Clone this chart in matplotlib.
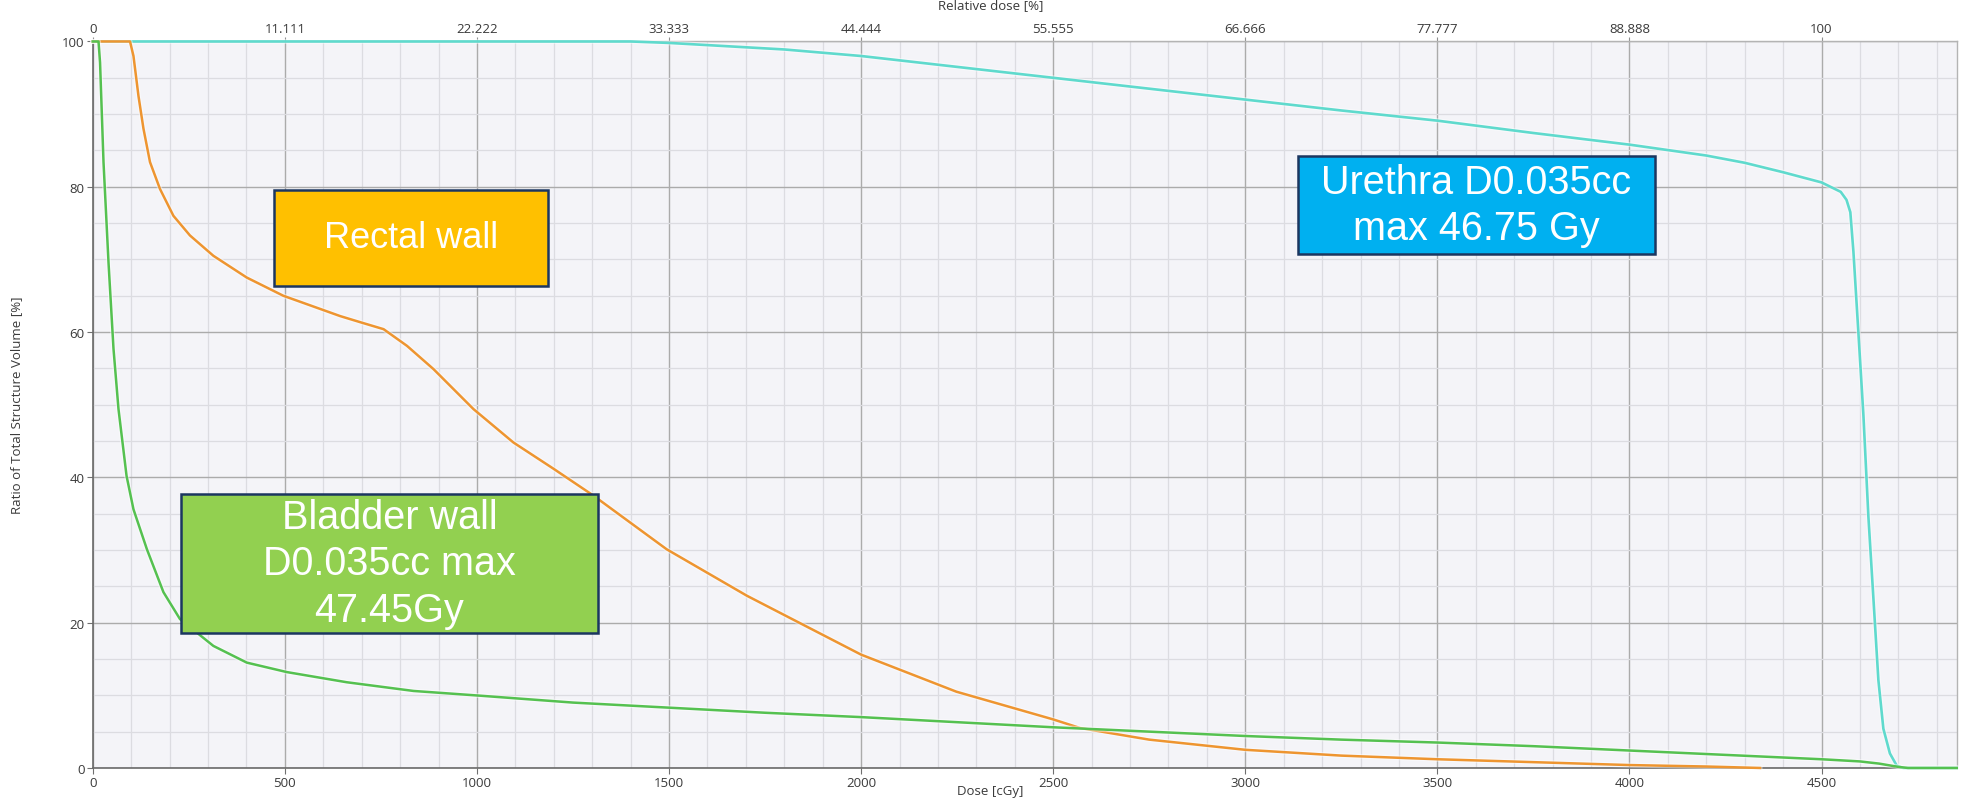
import numpy as np
import matplotlib
matplotlib.use("Agg")
import matplotlib.pyplot as plt
from matplotlib.patches import Rectangle
import matplotlib.patheffects as pe

# DVH curves (dose in cGy, volume in %)
urethra_dose = [0, 1400, 1500, 1600, 1800, 2000, 2250, 2500, 2750, 3000, 3250, 3500, 3750,
                4000, 4200, 4300, 4400, 4500, 4550, 4565, 4575, 4583, 4596, 4609, 4622,
                4635, 4648, 4661, 4678, 4696, 4713, 4852]
urethra_vol = [100, 100, 99.8, 99.5, 98.9, 98.0, 96.5, 95.0, 93.5, 92.0, 90.5, 89.1, 87.4,
               85.8, 84.3, 83.3, 82.0, 80.6, 79.3, 78.2, 76.5, 71.1, 59.9, 48.6, 34.6,
               23.4, 12.1, 5.4, 2.0, 0.3, 0, 0]

rectal_dose = [0, 97, 106, 119, 132, 149, 175, 210, 253, 314, 401, 496, 644, 700, 757, 818,
               887, 991, 1095, 1199, 1303, 1494, 1703, 2000, 2248, 2499, 2570, 2750, 3000,
               3250, 3500, 3750, 4000, 4200, 4340]
rectal_vol = [100, 100, 98.0, 92.5, 88.0, 83.4, 79.7, 76.0, 73.3, 70.5, 67.5, 65.0, 62.2,
              61.3, 60.4, 58.1, 54.9, 49.4, 44.8, 41.2, 37.5, 30.1, 23.7, 15.6, 10.5, 6.7,
              5.5, 3.9, 2.5, 1.7, 1.2, 0.8, 0.4, 0.2, 0.0]

bladder_dose = [0, 15, 19, 28, 41, 54, 67, 88, 106, 141, 184, 227, 314, 401, 505, 661, 835,
                1008, 1250, 1500, 1750, 2000, 2250, 2500, 2750, 3000, 3250, 3500, 3750,
                4000, 4250, 4500, 4600, 4650, 4700, 4725, 4852]
bladder_vol = [100, 100, 97.1, 83.4, 69.6, 57.7, 49.4, 40.2, 35.6, 30.1, 24.2, 20.5, 16.8,
               14.5, 13.2, 11.8, 10.6, 9.95, 9.0, 8.3, 7.6, 7.0, 6.3, 5.6, 5.0, 4.4, 3.9,
               3.5, 3.0, 2.4, 1.8, 1.2, 0.9, 0.6, 0.15, 0, 0]

dose_ticks = [0, 500, 1000, 1500, 2000, 2500, 3000, 3500, 4000, 4500]
rel_labels = ['0', '11.111', '22.222', '33.333', '44.444', '55.555',
              '66.666', '77.777', '88.888', '100']
ref_dose = 4500.0

# annotation boxes: (x0, x1, y0, y1) in data units, colour, text, font size
boxes = [
    ((473, 1184, 66.3, 79.6), '#FFC000', 'Rectal wall', 26),
    ((3137, 4067, 70.7, 84.2), '#00B0F0', 'Urethra D0.035cc\nmax 46.75 Gy', 28.5),
    ((229, 1315, 18.6, 37.7), '#92D050', 'Bladder wall\nD0.035cc max\n47.45Gy', 28.5),
]

plt.rcParams['font.family'] = ['Open Sans', 'DejaVu Sans']

fig = plt.figure(figsize=(19.65, 8.12), dpi=100)
ax = fig.add_axes([0.0472, 0.0530, 0.9486, 0.8947])
ax.set_facecolor('#F4F4F8')

ax.set_xlim(0, 4852)
ax.set_ylim(0, 100)

ax.set_xticks(dose_ticks)
ax.set_xticks(np.arange(0, 4853, 100), minor=True)
ax.set_yticks([0, 20, 40, 60, 80, 100])
ax.set_yticks(np.arange(0, 101, 5), minor=True)
ax.grid(which='major', color='#ABABAB', lw=1.0, zorder=0)
ax.grid(which='minor', color='#DCDCE1', lw=0.9, zorder=0)
ax.set_axisbelow(True)
ax.tick_params(which='minor', length=0)
ax.tick_params(which='major', direction='out', length=4, color='#707070',
               labelsize=9.5, labelcolor='#3A3A3A', pad=2)

for s in ['left', 'bottom']:
    ax.spines[s].set_color('#6A6A6A')
    ax.spines[s].set_linewidth(1.2)
for s in ['top', 'right']:
    ax.spines[s].set_color('#B4B4B4')
    ax.spines[s].set_linewidth(1.0)

top = ax.secondary_xaxis('top', functions=(lambda d: d / ref_dose * 100,
                                            lambda p: p * ref_dose / 100))
top.set_ticks([d / ref_dose * 100 for d in dose_ticks], labels=rel_labels)
top.tick_params(direction='out', length=3, color='#909090', labelsize=9.5,
                labelcolor='#3A3A3A', pad=2)
top.spines['top'].set_visible(False)

halo = [pe.Stroke(linewidth=3.6, foreground='white', alpha=0.45), pe.Normal()]
ax.plot(urethra_dose, urethra_vol, color='#5FDACD', lw=1.9, clip_on=False,
        zorder=3, path_effects=halo)
ax.plot(rectal_dose, rectal_vol, color='#EE9530', lw=1.8, clip_on=False,
        zorder=4, path_effects=halo)
ax.plot(bladder_dose, bladder_vol, color='#55C150', lw=1.8, clip_on=False,
        zorder=5, path_effects=halo)

for (x0, x1, y0, y1), col, txt, fs in boxes:
    ax.add_patch(Rectangle((x0, y0), x1 - x0, y1 - y0, facecolor=col,
                           edgecolor='#1B3660', lw=1.8, zorder=6))
    ax.text((x0 + x1) / 2, (y0 + y1) / 2, txt, ha='center', va='center',
            color='white', fontsize=fs, family='Liberation Sans',
            linespacing=1.28, zorder=7)

fig.text(0.504, 1 - 792 / 812, 'Dose [cGy]', ha='center', va='center',
         fontsize=9.5, color='#3A3A3A')
fig.text(0.504, 1 - 6 / 812, 'Relative dose [%]', ha='center', va='center',
         fontsize=9.5, color='#3A3A3A')
fig.text(17 / 1965, 1 - 405 / 812, 'Ratio of Total Structure Volume [%]',
         ha='center', va='center', rotation=90, fontsize=9.5, color='#3A3A3A')

fig.savefig('out.png', dpi=100, facecolor='white')
